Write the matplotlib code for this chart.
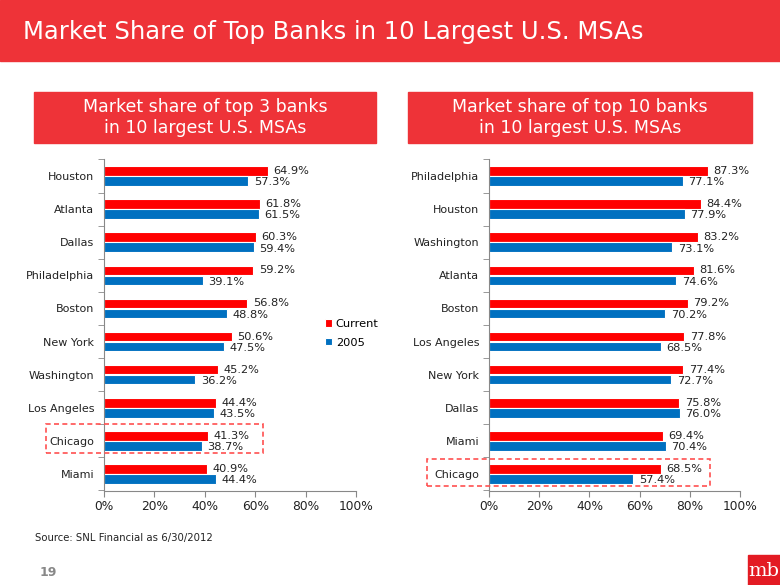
import matplotlib.pyplot as plt
from matplotlib.patches import Rectangle
import numpy as np

plt.rcParams['font.family'] = ['DejaVu Sans']

# left panel: top 3 banks
cities_3 = ['Houston', 'Atlanta', 'Dallas', 'Philadelphia', 'Boston', 'New York',
            'Washington', 'Los Angeles', 'Chicago', 'Miami']
current_3 = [64.9, 61.8, 60.3, 59.2, 56.8, 50.6, 45.2, 44.4, 41.3, 40.9]
y2005_3 = [57.3, 61.5, 59.4, 39.1, 48.8, 47.5, 36.2, 43.5, 38.7, 44.4]

# right panel: top 10 banks
cities_10 = ['Philadelphia', 'Houston', 'Washington', 'Atlanta', 'Boston', 'Los Angeles',
             'New York', 'Dallas', 'Miami', 'Chicago']
current_10 = [87.3, 84.4, 83.2, 81.6, 79.2, 77.8, 77.4, 75.8, 69.4, 68.5]
y2005_10 = [77.1, 77.9, 73.1, 74.6, 70.2, 68.5, 72.7, 76.0, 70.4, 57.4]

xticks = [0, 20, 40, 60, 80, 100]

RED = '#FF0000'
BLUE = '#0070C0'
BANNER = '#EE3338'
TXT = '#222222'

W, H = 780, 585
fig = plt.figure(figsize=(7.8, 5.85), dpi=100)


def px_rect(x0, y0, x1, y1):
    # pixel box (top-left origin) -> figure fraction
    return [x0 / W, 1 - y1 / H, (x1 - x0) / W, (y1 - y0) / H]


# title banner
fig.patches.append(Rectangle((0, 1 - 61 / H), 1, 61 / H, transform=fig.transFigure,
                             color=BANNER, zorder=0))
fig.text(23 / W, 1 - 32 / H, 'Market Share of Top Banks in 10 Largest U.S. MSAs',
         color='white', fontsize=17.5, va='center', ha='left')

# subtitle boxes
for x0, x1, txt in [(34, 376, 'Market share of top 3 banks\nin 10 largest U.S. MSAs'),
                    (408, 752, 'Market share of top 10 banks\nin 10 largest U.S. MSAs')]:
    fig.patches.append(Rectangle((x0 / W, 1 - 143 / H), (x1 - x0) / W, 51 / H,
                                 transform=fig.transFigure, color=BANNER, zorder=0))
    fig.text((x0 + x1) / 2 / W, 1 - 117.5 / H, txt, color='white', fontsize=12.5,
             ha='center', va='center', linespacing=1.15)


def draw_panel(rect, cities, cur, old, legend=False):
    ax = fig.add_axes(rect)
    pos = np.arange(len(cities))
    ax.barh(pos - 0.15, cur, height=0.29, color=RED, edgecolor='white', linewidth=0.8,
            label='Current')
    ax.barh(pos + 0.15, old, height=0.29, color=BLUE, edgecolor='white', linewidth=0.8,
            label='2005')
    for p, c, o in zip(pos, cur, old):
        ax.annotate(f'{c:.1f}%', (c, p - 0.15), xytext=(4, 0), textcoords='offset points',
                    va='center', ha='left', fontsize=8.2, color=TXT)
        ax.annotate(f'{o:.1f}%', (o, p + 0.19), xytext=(4, 0), textcoords='offset points',
                    va='center', ha='left', fontsize=8.2, color=TXT)
    ax.set_xlim(0, 100)
    ax.set_ylim(len(cities) - 0.5, -0.5)
    ax.set_xticks(xticks)
    ax.set_xticklabels([f'{t}%' for t in xticks], fontsize=8.8, color=TXT)
    ax.set_yticks(pos)
    ax.set_yticklabels(cities, fontsize=8, color=TXT)
    ax.set_yticks(np.arange(len(cities) + 1) - 0.5, minor=True)
    ax.tick_params(axis='y', which='major', length=0, pad=7)
    ax.tick_params(axis='y', which='minor', length=4, color='#888888')
    ax.tick_params(axis='x', length=4, color='#888888', pad=3)
    for s in ['top', 'right']:
        ax.spines[s].set_visible(False)
    for s in ['left', 'bottom']:
        ax.spines[s].set_color('#888888')
    if legend:
        ax.legend(loc='center left', bbox_to_anchor=(0.877, 0.475), frameon=False,
                  fontsize=8.2, handlelength=0.6, handleheight=0.6, handletextpad=0.35,
                  labelspacing=0.75, borderpad=0, borderaxespad=0)
    return ax


draw_panel(px_rect(104, 159.5, 356, 490.5), cities_3, current_3, y2005_3, legend=True)
draw_panel(px_rect(489, 159.5, 740, 490.5), cities_10, current_10, y2005_10)

# dashed highlight boxes around Chicago
for x0, y0, x1, y1 in [(46, 424, 263, 453), (427, 459, 710, 486)]:
    fig.patches.append(Rectangle((x0 / W, 1 - y1 / H), (x1 - x0) / W, (y1 - y0) / H,
                                 transform=fig.transFigure, fill=False, edgecolor='#FF5050',
                                 linestyle=(0, (3, 2)), linewidth=1.2, zorder=5))

fig.text(35 / W, 1 - 538 / H, 'Source: SNL Financial as 6/30/2012', fontsize=7.3,
         va='center', ha='left', color=TXT)
fig.text(40 / W, 1 - 573 / H, '19', fontsize=9, fontweight='bold', va='center',
         ha='left', color='#888888')

# logo
fig.patches.append(Rectangle((748 / W, 0), 32 / W, 30 / H, transform=fig.transFigure,
                             color='#E31B23', zorder=0))
fig.text(764 / W, 1 - 571 / H, 'mb', fontsize=14, family='DejaVu Serif', color='white',
         ha='center', va='center')

fig.savefig('out.png', dpi=100)
